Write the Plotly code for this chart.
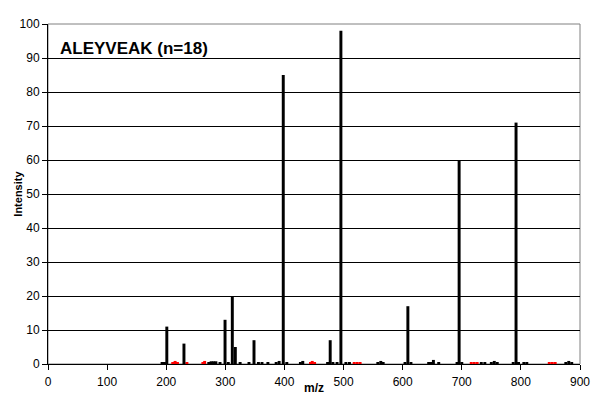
import plotly.graph_objects as go

# major fragment peaks (black)
mz_major = [201, 230, 299.5, 311.8, 316.9, 348.5, 398, 477.4, 495.5, 608.8, 695.5, 791.8]
int_major = [11, 6, 13, 20, 5, 7, 85, 7, 98, 17, 60, 71]

# minor peaks near baseline (black)
mz_minor = [193, 197, 272, 276, 280, 284, 291, 305, 325, 340, 356, 362, 372, 386, 391, 404,
            427, 431, 473, 482, 489, 504, 510, 558, 563, 567, 604, 614, 644, 648, 652, 661,
            692, 700, 733, 739, 750, 755, 760, 787, 796, 805, 810, 876, 881, 886]
int_minor = [0.4, 0.4, 0.4, 0.8, 0.8, 0.8, 0.3, 0.3, 0.3, 0.3, 0.3, 0.3, 0.3, 0.3, 0.9, 0.3,
             0.3, 0.9, 0.3, 0.3, 0.3, 0.3, 0.3, 0.3, 0.9, 0.3, 0.3, 0.3, 0.3, 0.3, 1.2, 0.3,
             0.3, 0.3, 0.3, 0.3, 0.3, 0.9, 0.3, 0.3, 0.3, 0.3, 0.3, 0.3, 0.9, 0.3]

# red marks
mz_red = [211, 215, 219, 235, 262, 265, 444, 447, 451, 518, 523, 528, 716, 721, 726, 848, 853, 858]
int_red = [0.3, 0.9, 0.3, 0.5, 0.3, 0.9, 0.3, 0.9, 0.3, 0.3, 0.3, 0.3, 0.3, 0.3, 0.3, 0.3, 0.3, 0.3]

x_ticks = [0, 100, 200, 300, 400, 500, 600, 700, 800, 900]
y_ticks = [0, 10, 20, 30, 40, 50, 60, 70, 80, 90, 100]

fig = go.Figure()
fig.add_trace(go.Bar(x=mz_minor, y=int_minor, width=5, marker={"color": "black", "line": {"width": 0}}))
fig.add_trace(go.Bar(x=mz_red, y=int_red, width=5, marker={"color": "#ff0000", "line": {"width": 0}}))
fig.add_trace(go.Bar(x=mz_major, y=int_major, width=5, marker={"color": "black", "line": {"width": 0}}))

fig.add_shape(type="rect", xref="paper", yref="paper", x0=0, y0=0, x1=1, y1=1,
              line={"color": "#808080", "width": 1}, layer="below")

fig.add_annotation(x=0.018, y=0.962, xref="paper", yref="paper", xanchor="left", yanchor="top",
                   text="<b>ALEYVEAK (n=18)</b>", showarrow=False,
                   font={"family": "Arial, Liberation Sans", "size": 17, "color": "black"})
# axis titles as annotations, placed like the original
fig.add_annotation(x=0.5, y=-0.07, xref="paper", yref="paper", xanchor="center", yanchor="middle",
                   text="<b>m/z</b>", showarrow=False, font={"size": 12})
fig.add_annotation(x=-0.057, y=0.5, xref="paper", yref="paper", xanchor="center", yanchor="middle",
                   text="<b>Intensity</b>", textangle=-90, showarrow=False, font={"size": 11})

# page body has an 8px margin, so the figure is sized 600x400
fig.update_layout(
    template="none",
    width=600,
    height=400,
    margin={"l": 39.5, "r": 28, "t": 15.5, "b": 44},
    paper_bgcolor="white",
    plot_bgcolor="white",
    showlegend=False,
    barmode="overlay",
    font={"family": "Arial, Liberation Sans", "size": 12, "color": "black"},
)
fig.update_xaxes(
    range=[0, 900], tickvals=x_ticks, showgrid=False, zeroline=False,
    showline=True, linecolor="black", linewidth=1, ticks="outside", ticklen=5,
    tickcolor="black", ticklabelstandoff=2,
)
fig.update_yaxes(
    range=[0, 100], tickvals=y_ticks, showgrid=True, gridcolor="black", gridwidth=1,
    zeroline=False, showline=True, linecolor="black", linewidth=1, ticks="outside",
    ticklen=5, tickcolor="black",
)

fig.write_html("out.html")
